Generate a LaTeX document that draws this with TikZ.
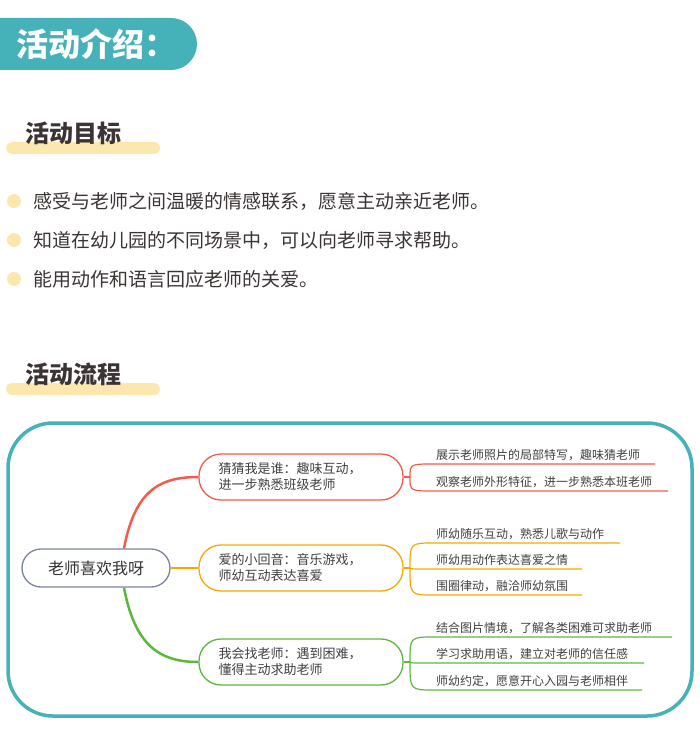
\documentclass[tikz,border=0pt]{standalone}
\usepackage{fontspec}
\setmainfont{Noto Sans CJK SC}
\usetikzlibrary{positioning}
\definecolor{teal1}{HTML}{45B1B8}
\definecolor{hiyel}{HTML}{FCE7AE}
\definecolor{txtgray}{HTML}{3C3434}
\definecolor{rootgray}{HTML}{7A8499}
\definecolor{redb}{HTML}{F25C4E}
\definecolor{orab}{HTML}{F5A800}
\definecolor{greb}{HTML}{5BB83C}

\begin{document}
\begin{tikzpicture}[x=1pt, y=-1pt,
  heading/.style={font=\fontsize{24}{26}\selectfont\bfseries, text=txtgray, anchor=west, inner sep=0pt},
  bullet/.style={font=\fontsize{19}{22}\selectfont, text=txtgray, anchor=west, inner sep=0pt},
  root/.style={rectangle, rounded corners=19pt, draw=rootgray, line width=1.3pt, minimum width=148pt, minimum height=38pt, font=\fontsize{16}{18}\selectfont, text=black!80},
  branch/.style={rectangle, rounded corners=22pt, line width=1.3pt, fill=white, minimum width=204pt, minimum height=46pt, text width=165pt, font=\fontsize{13}{16}\selectfont, text=black!75, align=left},
  leaf/.style={anchor=south west, inner xsep=2pt, inner ysep=3pt, font=\fontsize{12}{14}\selectfont, text=black!75}
]
\useasboundingbox (0,0) rectangle (700,730);

% Title banner
\begin{scope}
\clip (0,0) rectangle (700,730);
\fill[teal1, rounded corners=26pt] (-40,18) -- (197,18) -- (197,70) -- (-40,70) -- cycle;
\end{scope}
\node[anchor=west, inner sep=0pt, text=white, font=\fontsize{32}{34}\selectfont\bfseries] (title) at (16,44) {活动介绍：};

% Goals
\fill[hiyel, rounded corners=6pt] (6,142) rectangle (160,154);
\node[heading] (goals) at (25,133) {活动目标};
\foreach \y/\t in {201/{感受与老师之间温暖的情感联系，愿意主动亲近老师。},
                   240/{知道在幼儿园的不同场景中，可以向老师寻求帮助。},
                   279/{能用动作和语言回应老师的关爱。}} {
  \fill[hiyel] (14,\y) circle (7);
  \node[bullet] at (33,\y) {\t};
}

% Process
\fill[hiyel, rounded corners=6pt] (6,383) rectangle (160,395);
\node[heading] (process) at (25,374) {活动流程};

% Frame
\draw[teal1, line width=3.5pt, rounded corners=45pt] (8,423) rectangle (692,716);

% Mind map
\node[root] (root) at (96,568) {老师喜欢我呀};
\node[branch, draw=redb] (guess) at (301,477) {猜猜我是谁：趣味互动，\\进一步熟悉班级老师};
\node[branch, draw=orab] (echo) at (301,568) {爱的小回音：音乐游戏，\\师幼互动表达喜爱};
\node[branch, draw=greb] (find) at (301,662) {我会找老师：遇到困难，\\懂得主动求助老师};

\draw[redb, line width=2.5pt] (root.north)+(28,0) .. controls (135,490) and (160,477) .. (guess.west);
\draw[orab, line width=2pt] (root.east) -- (echo.west);
\draw[greb, line width=2.5pt] (root.south)+(28,0) .. controls (135,646) and (160,662) .. (find.west);

% Leaves
\node[leaf] (g1) at (434,464) {展示老师照片的局部特写，趣味猜老师};
\node[leaf] (g2) at (434,491) {观察老师外形特征，进一步熟悉本班老师};
\node[leaf] (e1) at (434,543) {师幼随乐互动，熟悉儿歌与动作};
\node[leaf] (e2) at (434,569) {师幼用动作表达喜爱之情};
\node[leaf] (e3) at (434,595) {围圈律动，融洽师幼氛围};
\node[leaf] (f1) at (434,637) {结合图片情境，了解各类困难可求助老师};
\node[leaf] (f2) at (434,663) {学习求助用语，建立对老师的信任感};
\node[leaf] (f3) at (434,690) {师幼约定，愿意开心入园与老师相伴};

\coordinate (gj) at (410,477);
\coordinate (ej) at (410,568);
\coordinate (fj) at (410,662);
\draw[redb, line width=1.2pt] (guess.east) -- (gj);
\draw[orab, line width=1.2pt] (echo.east) -- (ej);
\draw[greb, line width=1.2pt] (find.east) -- (fj);

\foreach \j/\l/\c/\e in {gj/g1/redb/655, gj/g2/redb/668,
                         ej/e1/orab/620, ej/e2/orab/582, ej/e3/orab/582,
                         fj/f1/greb/672, fj/f2/greb/644, fj/f3/greb/642} {
  \draw[\c, line width=1.2pt] (\j) .. controls (\j|-\l.south west) .. (\l.south west) -- (\e,0 |- \l.south west);
}
\end{tikzpicture}
\end{document}
